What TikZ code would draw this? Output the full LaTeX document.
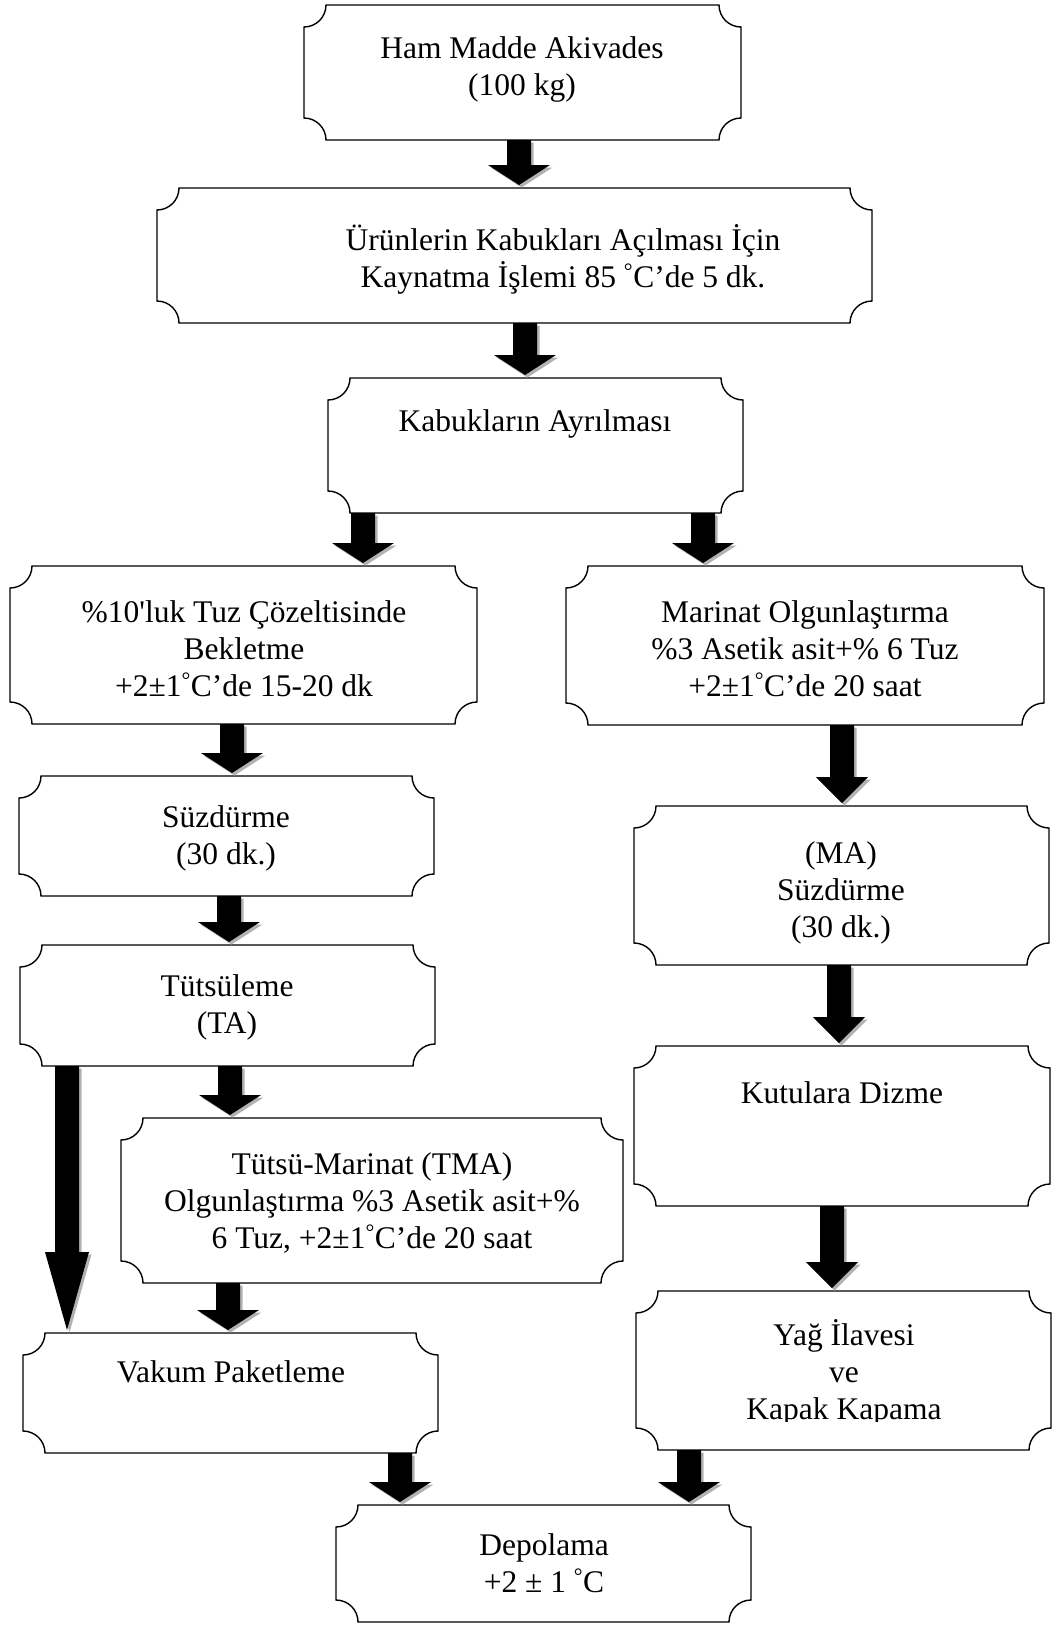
\documentclass[tikz,border=0pt]{standalone}
\usepackage{fontspec}
\setmainfont{Liberation Serif}
\usetikzlibrary{fit,calc}
\newcommand{\lnstrut}{\rule[-9pt]{0pt}{37pt}}
\newcommand{\dg}{\textsuperscript{°}}
\tikzset{
  boxfit/.style={inner sep=0pt, outer sep=0pt},
  plaqueline/.style={draw=black, line width=1.4pt, fill=white},
  txt/.style={anchor=north, inner sep=0pt, align=center, font=\fontsize{31.5}{37}\selectfont},
  blk/.style n args={3}{fill=black,
    preaction={fill=black!30, transform canvas={xshift=2.5pt,yshift=-2.5pt}},
    to path={let \p1=(\tikztostart), \p2=(\tikztotarget) in
      ({\x1-#1},\y1) -- ({\x1+#1},\y1) -- ({\x1+#1},{\y2+3pt+#3}) -- ({\x1+#2},{\y2+3pt+#3})
      -- (\x1,{\y2+3pt}) -- ({\x1-#2},{\y2+3pt+#3}) -- ({\x1-#1},{\y2+3pt+#3}) -- cycle}},
  arr/.style={blk={12pt}{31pt}{20pt}},
  arrR/.style={blk={12pt}{26pt}{26pt}},
  arrBig/.style={blk={12pt}{22pt}{78pt}},
}
\newcommand{\plq}[5]{%
  \node[boxfit, fit={(#2,-#3) (#4,-#5)}] (#1) {};
  \draw[plaqueline] ({#2+22},{-#3}) -- ({#4-22},{-#3})
    arc[start angle=180,end angle=270,radius=22pt] -- ({#4},{-#5+22})
    arc[start angle=90,end angle=180,radius=22pt] -- ({#2+22},{-#5})
    arc[start angle=0,end angle=90,radius=22pt] -- ({#2},{-#3-22})
    arc[start angle=270,end angle=360,radius=22pt] -- cycle;}
\begin{document}
\begin{tikzpicture}[x=1pt,y=1pt]
\useasboundingbox (0,0) rectangle (1055,-1625);
% boxes
\plq{b1}{304}{5}{741}{140}
\plq{b2}{157}{188}{872}{323}
\plq{b3}{328}{378}{743}{513}
\plq{b4}{10}{566}{477}{724}
\plq{b5}{566}{566}{1044}{725}
\plq{b6}{19}{776}{434}{896}
\plq{b7}{634}{806}{1049}{965}
\plq{b8}{20}{945}{435}{1066}
\plq{b9}{634}{1046}{1050}{1206}
\plq{b10}{121}{1118}{623}{1283}
\plq{b11}{636}{1291}{1051}{1450}
\plq{b12}{23}{1333}{438}{1453}
\plq{b13}{336}{1505}{751}{1622}
% texts
\node[txt] (t1) at (522,-30) {\lnstrut Ham Madde Akivades\\\lnstrut (100 kg)};
\node[txt] (t2) at (563,-222) {\lnstrut Ürünlerin Kabukları Açılması İçin\\\lnstrut Kaynatma İşlemi 85 \dg C’de 5 dk.};
\node[txt] (t3) at (535,-403) {\lnstrut Kabukların Ayrılması};
\node[txt] (t4) at (244,-594) {\lnstrut \%10\textquotesingle luk Tuz Çözeltisinde\\\lnstrut Bekletme\\\lnstrut +2±1\dg C’de 15-20 dk};
\node[txt] (t5) at (805,-594) {\lnstrut Marinat Olgunlaştırma\\\lnstrut \%3 Asetik asit+\% 6 Tuz\\\lnstrut +2±1\dg C’de 20 saat};
\node[txt] (t6) at (226,-799) {\lnstrut Süzdürme\\\lnstrut (30 dk.)};
\node[txt] (t7) at (841,-835) {\lnstrut (MA)\\\lnstrut Süzdürme\\\lnstrut (30 dk.)};
\node[txt] (t8) at (227,-968) {\lnstrut Tütsüleme\\\lnstrut (TA)};
\node[txt] (t9) at (842,-1075) {\lnstrut Kutulara Dizme};
\node[txt] (t10) at (372,-1146) {\lnstrut Tütsü-Marinat (TMA)\\\lnstrut Olgunlaştırma \%3 Asetik asit+\%\\\lnstrut 6 Tuz, +2±1\dg C’de 20 saat};
\begin{scope}
\clip (636,-1291) rectangle (1051,-1421);
\node[txt] (t11) at (844,-1317) {\lnstrut Yağ İlavesi\\\lnstrut ve\\\lnstrut Kapak Kapama};
\end{scope}
\node[txt] (t12) at (231,-1354) {\lnstrut Vakum Paketleme};
\node[txt] (t13) at (544,-1527) {\lnstrut Depolama\\\lnstrut +2 ± 1 \dg C};
% arrows
\path[arr] (b1.south -| 519,0) to (b2.north -| 519,0);
\path[arr] (b2.south -| 525,0) to (b3.north -| 525,0);
\path[arr] (b3.south -| 363,0) to (b4.north -| 363,0);
\path[arr] (b3.south -| 703,0) to (b5.north -| 703,0);
\path[arr] (b4.south -| 232,0) to (b6.north -| 232,0);
\path[arrR] (b5.south -| 842,0) to (b7.north -| 842,0);
\path[arr] (b6.south -| 229,0) to (b8.north -| 229,0);
\path[arr] (b8.south -| 230,0) to (b10.north -| 230,0);
\path[arrBig] (b8.south -| 67,0) to (b12.north -| 67,0);
\path[arr] (b10.south -| 228,0) to (b12.north -| 228,0);
\path[arrR] (b7.south -| 839,0) to (b9.north -| 839,0);
\path[arrR] (b9.south -| 832,0) to (b11.north -| 832,0);
\path[arr] (b12.south -| 400,0) to (b13.north -| 400,0);
\path[arr] (b11.south -| 689,0) to (b13.north -| 689,0);
\end{tikzpicture}
\end{document}
